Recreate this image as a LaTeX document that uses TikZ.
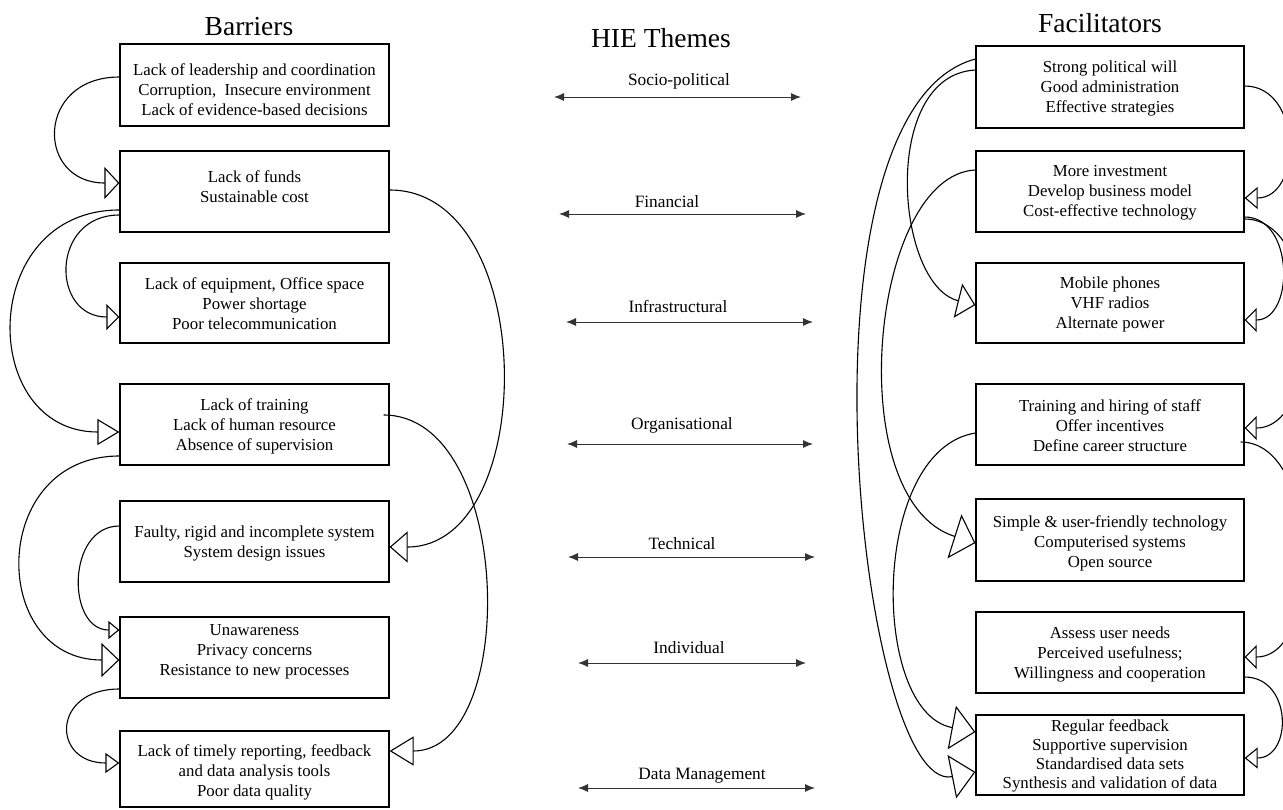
\documentclass[tikz,border=0pt]{standalone}
\usepackage{fontspec}
\setmainfont{Liberation Serif}
\usetikzlibrary{arrows.meta,calc}
\begin{document}
\begin{tikzpicture}[x=1pt,y=-1pt,
  lbox/.style={draw, line width=1.2pt, minimum width=269pt, inner sep=0pt},
  rbox/.style={draw, line width=1.2pt, minimum width=268pt, inner sep=0pt},
  txt/.style={align=center, inner sep=0pt, font=\fontsize{16.8}{20}\selectfont},
  lab/.style={anchor=base, inner sep=0pt, font=\fontsize{17.3}{20}\selectfont},
  ttl/.style={anchor=base, inner sep=0pt, font=\fontsize{27.5}{30}\selectfont},
  link/.style={line width=1.1pt},
  theme/.style={line width=1pt, black!80, >={Latex[length=10pt,width=8pt]}, <->},
  tri/.style args={#1/#2}{-{Triangle[open,length=#1pt,width=#2pt]}}
]
\fill[white] (0,0) rectangle (1283,809);
\useasboundingbox (0,0) rectangle (1283,809);

% titles
\node[ttl] (tb) at (249,35) {Barriers};
\node[ttl] (tf) at (1100,32) {Facilitators};
\node[ttl] (th) at (661,47) {HIE Themes};

% left boxes
\node[lbox, minimum height=82pt] (lb1) at (254.5,85) {};
\node[lbox, minimum height=81pt] (lb2) at (254.5,191.5) {};
\node[lbox, minimum height=80pt] (lb3) at (254.5,303) {};
\node[lbox, minimum height=81pt] (lb4) at (254.5,424.5) {};
\node[lbox, minimum height=81pt] (lb5) at (254.5,541.5) {};
\node[lbox, minimum height=81pt] (lb6) at (254.5,657.5) {};
\node[lbox, minimum height=76pt] (lb7) at (254.5,769) {};

\node[txt] (lt1) at (254.5,90) {Lack of leadership and coordination\\Corruption,\ \ Insecure environment\\Lack of evidence-based decisions};
\node[txt] (lt2) at (254.5,186.5) {Lack of funds\\Sustainable cost};
\node[txt] (lt3) at (254.5,304) {Lack of equipment, Office space\\Power shortage\\Poor telecommunication};
\node[txt] (lt4) at (254.5,426) {Lack of training\\Lack of human resource\\Absence of supervision};
\node[txt] (lt5) at (254.5,543) {Faulty, rigid and incomplete system\\System design issues};
\node[txt] (lt6) at (254.5,652) {Unawareness\\Privacy concerns\\Resistance to new processes};
\node[txt] (lt7) at (254.5,772) {Lack of timely reporting, feedback\\and data analysis tools\\Poor data quality};

% right boxes
\node[rbox, minimum height=82pt] (rb1) at (1110,87) {};
\node[rbox, minimum height=81pt] (rb2) at (1110,191.5) {};
\node[rbox, minimum height=80pt] (rb3) at (1110,303) {};
\node[rbox, minimum height=81pt] (rb4) at (1110,424.5) {};
\node[rbox, minimum height=82pt] (rb5) at (1110,540) {};
\node[rbox, minimum height=81pt] (rb6) at (1110,652.5) {};
\node[rbox, minimum height=80pt] (rb7) at (1110,755) {};

\node[txt] (rt1) at (1110,88) {Strong political will\\Good administration\\Effective strategies};
\node[txt] (rt2) at (1110,193) {More investment\\Develop business model\\Cost-effective technology};
\node[txt] (rt3) at (1110,304) {Mobile phones\\VHF radios\\Alternate power};
\node[txt] (rt4) at (1110,426) {Training and hiring of staff\\Offer incentives\\Define career structure};
\node[txt] (rt5) at (1110,543) {Simple \& user-friendly technology\\Computerised systems\\Open source};
\node[txt] (rt6) at (1110,654) {Assess user needs\\Perceived usefulness;\\Willingness and cooperation};
\node[txt, font=\fontsize{16.8}{19}\selectfont] (rt7) at (1110,756) {Regular feedback\\Supportive supervision\\Standardised data sets\\Synthesis and validation of data};

% themes
\coordinate (a1l) at (554,97);  \coordinate (a1r) at (801,97);
\coordinate (a2l) at (559,214); \coordinate (a2r) at (806,214);
\coordinate (a3l) at (566,322); \coordinate (a3r) at (813,322);
\coordinate (a4l) at (567,444); \coordinate (a4r) at (813,444);
\coordinate (a5l) at (568,557); \coordinate (a5r) at (815,557);
\coordinate (a6l) at (578,663); \coordinate (a6r) at (806,663);
\coordinate (a7l) at (578,788); \coordinate (a7r) at (815,788);
\draw[theme] (a1l) -- (a1r);
\draw[theme] (a2l) -- (a2r);
\draw[theme] (a3l) -- (a3r);
\draw[theme] (a4l) -- (a4r);
\draw[theme] (a5l) -- (a5r);
\draw[theme] (a6l) -- (a6r);
\draw[theme] (a7l) -- (a7r);
\node[lab] (m1) at (679,85) {Socio-political};
\node[lab] (m2) at (667,207) {Financial};
\node[lab] (m3) at (678,312) {Infrastructural};
\node[lab] (m4) at (682,429) {Organisational};
\node[lab] (m5) at (682,549) {Technical};
\node[lab] (m6) at (689,653) {Individual};
\node[lab] (m7) at (702,779) {Data Management};

% barrier links (left side)
\draw[link, tri=15/32] ($(lb1.west)+(0,-8)$) to[out=180,in=180,distance=84pt] ($(lb2.west)+(0,-8.5)$);
\draw[link, tri=22/26] ($(lb2.west)+(0,18.5)$) to[out=180,in=180,distance=142pt] ($(lb4.west)+(0,7.5)$);
\draw[link, tri=13/26] ($(lb2.west)+(0,23.5)$) to[out=180,in=180,distance=69pt] ($(lb3.west)+(0,14)$);
\draw[link, tri=18/34] ($(lb4.west)+(0,31.5)$) to[out=180,in=180,distance=131pt] ($(lb6.west)+(0,2.5)$);
\draw[link, tri=11/18] ($(lb5.west)+(0,-15.5)$) to[out=180,in=180,distance=53pt] ($(lb6.west)+(0,-27.5)$);
\draw[link, tri=14/20] ($(lb6.west)+(0,31.5)$) to[out=180,in=180,distance=68pt] ($(lb7.west)+(0,-6)$);
% barrier links (right side)
\draw[link, tri=18/31] ($(lb2.east)+(0,-1.5)$) to[out=0,in=0,distance=150pt] ($(lb5.east)+(0,5.5)$);
\draw[link, tri=24/29] ($(lb4.east)+(-6,-9.5)$) to[out=0,in=0,distance=130pt] ($(lb7.east)+(0,-18)$);

% facilitator links (left side)
\draw[link, tri=24/44] ($(rb1.west)+(0,-28)$) .. controls (785,110) and (860,795) .. ($(rb7.west)+(0,17)$);
\draw[link, tri=18/35] ($(rb1.west)+(0,-17)$) .. controls (880,75) and (895,285) .. ($(rb3.west)+(0,2)$);
\draw[link, tri=22/46] ($(rb2.west)+(0,-21.5)$) .. controls (870,175) and (840,500) .. ($(rb5.west)+(0,3)$);
\draw[link, tri=24/44] ($(rb4.west)+(0,8.5)$) .. controls (870,450) and (870,712) .. ($(rb7.west)+(0,-23)$);
% facilitator links (right side)
\draw[link, tri=13/22] ($(rb1.east)+(0,-1)$) to[out=0,in=0,distance=58pt] ($(rb2.east)+(0,6.5)$);
\draw[link, tri=12/24] ($(rb2.east)+(0,25.5)$) to[out=0,in=0,distance=50pt] ($(rb3.east)+(0,17)$);
\draw[link, tri=12/24] ($(rb2.east)+(0,27.5)$) to[out=0,in=0,distance=80pt] ($(rb4.east)+(0,3.5)$);
\draw[link, tri=12/24] ($(rb4.east)+(-4,17.5)$) to[out=0,in=0,distance=80pt] ($(rb6.east)+(0,4.5)$);
\draw[link, tri=13/21] ($(rb6.east)+(0,24.5)$) to[out=0,in=0,distance=48pt] ($(rb7.east)+(0,3)$);
\end{tikzpicture}
\end{document}
